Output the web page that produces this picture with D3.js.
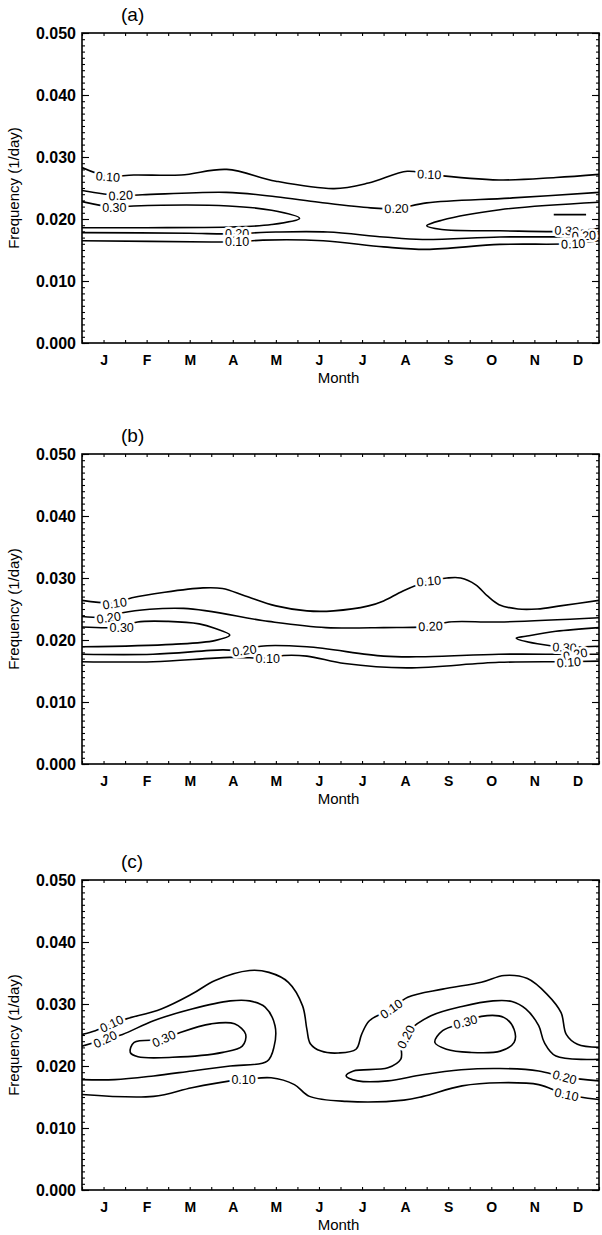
<!DOCTYPE html>
<html>
<head>
<meta charset="utf-8">
<script src="https://cdn.jsdelivr.net/npm/d3@7/dist/d3.min.js"></script>
<style>
  body { margin: 0; background: #fff; }
  svg { display: block; font-family: "Liberation Sans", Arial, sans-serif; }
</style>
</head>
<body>
<svg id="chart" width="602" height="1235"></svg>
<script>
// month labels and y ticks
const months = ["J", "F", "M", "A", "M", "J", "J", "A", "S", "O", "N", "D"];
const freqTicks = [0, 0.01, 0.02, 0.03, 0.04, 0.05];
const panelTitles = ["(a)", "(b)", "(c)"];

// contour lines: [month position, frequency]
// (month 0 = start of Jan, 12 = end of Dec)
const linesA = [
  { open: true, pts: [[0, 0.0283], [0.6, 0.0269], [1.2, 0.0271], [2.3, 0.0271], [3.36, 0.0280], [4.5, 0.0261], [5.85, 0.0249], [6.65, 0.0258], [7.55, 0.0277], [8.06, 0.0272], [9.68, 0.0263], [11.0, 0.0267], [12, 0.0272]] },
  { open: true, pts: [[0, 0.0246], [0.85, 0.0238], [1.4, 0.0239], [3.35, 0.0243], [4.5, 0.0236], [5.5, 0.0227], [6.7, 0.0218], [7.3, 0.0217], [8.0, 0.0226], [10, 0.0234], [12, 0.0243]] },
  { open: true, pts: [[0, 0.0228], [0.75, 0.0219], [1.2, 0.0221], [3.4, 0.0221], [4.4, 0.0214], [5.05, 0.0201], [4.4, 0.0191], [3.4, 0.0187], [1.5, 0.0186], [0, 0.0186]] },
  { open: true, pts: [[12, 0.0227], [9.7, 0.0215], [8.35, 0.0198], [8.0, 0.0189], [8.35, 0.0183], [9.7, 0.0181], [11.3, 0.0180], [12, 0.0185]] },
  { open: true, pts: [[10.95, 0.0207], [11.35, 0.0207], [11.7, 0.0207]] },
  { open: true, pts: [[0, 0.0178], [2.5, 0.0177], [3.4, 0.0176], [4.5, 0.0179], [5.7, 0.0179], [7.0, 0.0171], [7.9, 0.0167], [9.7, 0.0171], [11.5, 0.0172], [12, 0.0176]] },
  { open: true, pts: [[0, 0.0165], [3.0, 0.0163], [3.6, 0.0163], [4.2, 0.0166], [5.6, 0.0165], [7.0, 0.0155], [8.0, 0.0151], [9.7, 0.0159], [11.3, 0.0160], [12, 0.0165]] }
];
const labelsA = [
  ["0.10", 0.6, 0.0268, 4], ["0.20", 0.9, 0.0238, -3], ["0.30", 0.75, 0.0218, 0],
  ["0.10", 8.06, 0.0272, 2], ["0.20", 7.3, 0.0217, -2],
  ["0.20", 3.6, 0.0177, 0], ["0.10", 3.6, 0.0163, 0],
  ["0.30", 11.25, 0.0181, 3], ["0.20", 11.65, 0.0173, -3], ["0.10", 11.4, 0.0160, -3]
];

const linesB = [
  { open: true, pts: [[0, 0.0264], [0.76, 0.0260], [1.16, 0.0268], [1.92, 0.0277], [2.81, 0.0284], [3.26, 0.0283], [3.79, 0.0271], [4.5, 0.0255], [5.22, 0.0247], [5.84, 0.0247], [6.65, 0.0255], [7.0, 0.0263], [7.45, 0.0279], [8.05, 0.0295], [8.47, 0.0300], [8.79, 0.0300], [9.14, 0.0289], [9.41, 0.0271], [9.68, 0.0257], [10.12, 0.0250], [10.57, 0.0250], [11.1, 0.0255], [12, 0.0264]] },
  { open: true, pts: [[0, 0.0238], [0.62, 0.0237], [0.94, 0.0244], [2.36, 0.0251], [4.33, 0.0230], [5.66, 0.0220], [7.0, 0.0220], [8.09, 0.0222], [8.52, 0.0229], [9.68, 0.0229], [12, 0.0236]] },
  { open: true, pts: [[0, 0.0221], [0.92, 0.0221], [1.29, 0.0229], [2.0, 0.0230], [2.72, 0.0226], [3.08, 0.0219], [3.43, 0.0208], [3.08, 0.0199], [2.1, 0.0193], [0, 0.0189]] },
  { open: true, pts: [[12, 0.0220], [11.0, 0.0214], [10.3, 0.0206], [10.08, 0.0203], [10.57, 0.0194], [11.2, 0.0189], [12, 0.0190]] },
  { open: true, pts: [[0, 0.0177], [1.65, 0.0177], [3.26, 0.0184], [3.77, 0.0183], [4.15, 0.0190], [5.22, 0.0189], [7.0, 0.0174], [7.9, 0.0173], [9.68, 0.0177], [11.2, 0.0177], [12, 0.0177]] },
  { open: true, pts: [[0, 0.0165], [1.65, 0.0165], [3.43, 0.0172], [4.31, 0.0171], [4.68, 0.0175], [5.22, 0.0174], [6.1, 0.0162], [7.54, 0.0155], [9.68, 0.0164], [11.3, 0.0165], [12, 0.0166]] }
];
const labelsB = [
  ["0.10", 0.76, 0.0259, -8], ["0.20", 0.62, 0.0236, -8], ["0.30", 0.92, 0.0220, 0],
  ["0.10", 8.05, 0.0295, -5], ["0.20", 8.09, 0.0222, -3],
  ["0.20", 3.77, 0.0183, -8], ["0.10", 4.31, 0.0170, 0],
  ["0.30", 11.2, 0.0188, 3], ["0.20", 11.45, 0.0177, -10], ["0.10", 11.3, 0.0164, -4]
];

const linesC = [
  { open: true, pts: [[0, 0.0251], [0.31, 0.0257], [0.69, 0.0268], [1.03, 0.0276], [1.84, 0.0292], [2.55, 0.0316], [3.09, 0.0338], [3.89, 0.0354], [4.34, 0.0351], [4.79, 0.0335], [5.12, 0.0297], [5.22, 0.0259], [5.3, 0.0236], [5.55, 0.0224], [5.95, 0.0221], [6.36, 0.0227], [6.49, 0.0251], [6.67, 0.0273], [7.18, 0.0292], [7.56, 0.0311], [8.37, 0.0324], [9.27, 0.0335], [9.8, 0.0346], [10.34, 0.0341], [10.79, 0.0316], [11.12, 0.0286], [11.24, 0.0251], [11.5, 0.0235], [12, 0.0230]] },
  { open: true, pts: [[0, 0.0232], [0.54, 0.0243], [0.94, 0.0251], [1.66, 0.0273], [2.55, 0.0292], [3.44, 0.0305], [3.89, 0.0305], [4.25, 0.0295], [4.48, 0.0265], [4.46, 0.0232], [4.3, 0.0208], [3.44, 0.0200], [2.55, 0.0192], [1.66, 0.0184], [0.76, 0.0178], [0, 0.0178]] },
  { open: false, pts: [[1.12, 0.0222], [1.21, 0.0238], [1.9, 0.0243], [2.28, 0.0254], [3.0, 0.0268], [3.54, 0.0268], [3.8, 0.0251], [3.72, 0.0232], [3.27, 0.0222], [2.1, 0.0214], [1.3, 0.0215]] },
  { open: true, pts: [[0, 0.0154], [1.66, 0.0151], [2.55, 0.0165], [3.44, 0.0176], [3.75, 0.0178], [4.39, 0.0181], [4.93, 0.0170], [5.28, 0.0151], [6.14, 0.0143], [7.47, 0.0145], [7.92, 0.0151], [8.82, 0.0168], [9.71, 0.0173], [10.6, 0.0170], [11.2, 0.0155], [12, 0.0146]] },
  { open: true, pts: [[12, 0.0211], [11.0, 0.0216], [10.73, 0.0238], [10.6, 0.0265], [10.3, 0.0292], [9.98, 0.0304], [9.54, 0.0305], [8.82, 0.0296], [8.1, 0.0281], [7.6, 0.0257], [7.42, 0.0232], [7.4, 0.0211], [7.1, 0.0197], [6.3, 0.0192], [6.13, 0.0184], [6.4, 0.0176], [7.1, 0.0176], [7.9, 0.0186], [8.8, 0.0194], [9.7, 0.0196], [10.6, 0.0192], [11.2, 0.0182], [12, 0.0176]] },
  { open: false, pts: [[8.19, 0.0238], [8.37, 0.0257], [8.9, 0.0270], [9.27, 0.0280], [9.8, 0.0278], [10.03, 0.0259], [10.03, 0.0238], [9.71, 0.0224], [9.0, 0.0222], [8.46, 0.0227]] }
];
const labelsC = [
  ["0.10", 0.69, 0.0268, -25], ["0.20", 0.54, 0.0243, -25], ["0.30", 1.9, 0.0244, -25],
  ["0.10", 3.75, 0.0178, 0], ["0.10", 7.18, 0.0292, -35], ["0.20", 7.52, 0.0247, -62],
  ["0.30", 8.9, 0.0271, -15], ["0.20", 11.2, 0.0182, 15], ["0.10", 11.25, 0.0154, 12]
];

const panels = [
  { title: panelTitles[0], top: 33, lines: linesA, labels: labelsA },
  { title: panelTitles[1], top: 454, lines: linesB, labels: labelsB },
  { title: panelTitles[2], top: 880, lines: linesC, labels: labelsC }
];

const svg = d3.select("#chart");
const left = 82, right = 599, plotH = 310;

const x = d3.scaleLinear().domain([0, 12]).range([left, right]);

panels.forEach((p, pi) => {
  const y = d3.scaleLinear().domain([0, 0.05]).range([p.top + plotH, p.top]);
  const g = svg.append("g");

  const clipId = "clip" + pi;
  g.append("clipPath").attr("id", clipId)
    .append("rect")
    .attr("x", left).attr("y", p.top)
    .attr("width", right - left).attr("height", plotH);

  // minor ticks on all four sides
  const minorY = y.ticks(50);
  const minorX = d3.range(0, 12.01, 0.5);
  g.append("g").attr("transform", `translate(${left},0)`)
    .call(d3.axisLeft(y).tickValues(minorY).tickSize(-3).tickFormat(""))
    .call(s => s.select(".domain").remove());
  g.append("g").attr("transform", `translate(${right},0)`)
    .call(d3.axisRight(y).tickValues(minorY).tickSize(-3).tickFormat(""))
    .call(s => s.select(".domain").remove());
  g.append("g").attr("transform", `translate(0,${p.top + plotH})`)
    .call(d3.axisBottom(x).tickValues(minorX).tickSize(-3).tickFormat(""))
    .call(s => s.select(".domain").remove());
  g.append("g").attr("transform", `translate(0,${p.top})`)
    .call(d3.axisTop(x).tickValues(minorX).tickSize(-3).tickFormat(""))
    .call(s => s.select(".domain").remove());

  // major y ticks with labels
  const yAxis = g.append("g").attr("transform", `translate(${left},0)`)
    .call(d3.axisLeft(y).tickValues(freqTicks).tickSize(-7).tickPadding(6).tickFormat(d3.format(".3f")));
  yAxis.select(".domain").remove();
  yAxis.selectAll("text").attr("font-size", 16).attr("font-weight", "bold")
    .attr("font-family", "Liberation Sans, Arial, sans-serif").attr("fill", "#000");
  g.append("g").attr("transform", `translate(${right},0)`)
    .call(d3.axisRight(y).tickValues(freqTicks).tickSize(-7).tickFormat(""))
    .call(s => s.select(".domain").remove());

  // month labels
  const xAxis = g.append("g").attr("transform", `translate(0,${p.top + plotH})`)
    .call(d3.axisBottom(x).tickValues(d3.range(12).map(i => i + 0.5)).tickSize(0).tickPadding(12)
      .tickFormat((d, i) => months[i]));
  xAxis.select(".domain").remove();
  xAxis.selectAll("text").attr("font-size", 14).attr("font-weight", "bold")
    .attr("font-family", "Liberation Sans, Arial, sans-serif").attr("fill", "#000");

  g.selectAll(".tick line").attr("stroke", "#000").attr("stroke-width", 1.1);

  // frame
  g.append("rect")
    .attr("x", left).attr("y", p.top)
    .attr("width", right - left).attr("height", plotH)
    .attr("fill", "none").attr("stroke", "#000").attr("stroke-width", 1.6);

  // axis titles
  g.append("text")
    .attr("x", (left + right) / 2 - 2).attr("y", p.top + plotH + 40)
    .attr("text-anchor", "middle").attr("font-size", 15)
    .text("Month");
  g.append("text")
    .attr("transform", `translate(19,${p.top + plotH / 2}) rotate(-90)`)
    .attr("text-anchor", "middle").attr("font-size", 15)
    .text("Frequency (1/day)");
  g.append("text")
    .attr("x", 121).attr("y", p.top - 12)
    .attr("font-size", 19)
    .text(p.title);

  // contour lines
  const openLine = d3.line().x(d => x(d[0])).y(d => y(d[1])).curve(d3.curveCatmullRom.alpha(0.5));
  const closedLine = d3.line().x(d => x(d[0])).y(d => y(d[1])).curve(d3.curveCatmullRomClosed.alpha(0.5));
  g.append("g").attr("clip-path", `url(#${clipId})`)
    .selectAll("path")
    .data(p.lines)
    .join("path")
    .attr("d", d => (d.open ? openLine : closedLine)(d.pts))
    .attr("fill", "none")
    .attr("stroke", "#000")
    .attr("stroke-width", 1.6);

  // contour labels
  g.append("g")
    .selectAll("text")
    .data(p.labels)
    .join("text")
    .attr("transform", d => `translate(${x(d[1])},${y(d[2])}) rotate(${d[3]})`)
    .attr("text-anchor", "middle")
    .attr("dy", "0.35em")
    .attr("font-size", 12.5)
    .attr("stroke", "#fff")
    .attr("stroke-width", 5)
    .attr("paint-order", "stroke")
    .attr("fill", "#000")
    .text(d => d[0]);
});
</script>
</body>
</html>
